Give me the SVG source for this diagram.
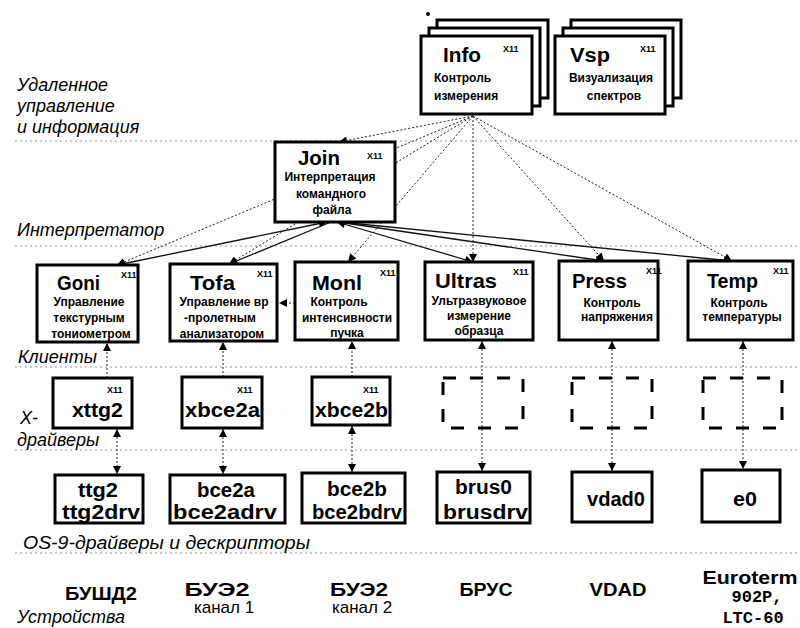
<svg xmlns="http://www.w3.org/2000/svg" width="800" height="628" viewBox="0 0 800 628">
<defs>
<marker id="ah" viewBox="0 0 10 10" refX="10" refY="5" markerWidth="9" markerHeight="8" markerUnits="userSpaceOnUse" orient="auto-start-reverse">
<path d="M0,0 L10,5 L0,10 z" fill="#000"/>
</marker>
<style>
.box{fill:#fff;stroke:#000;stroke-width:3}
.dbox{fill:none;stroke:#000;stroke-width:3;stroke-dasharray:13 14}
.t{font-family:"Liberation Sans",Arial,sans-serif;font-weight:bold;font-size:20px;fill:#000}
.x{font-family:"Liberation Sans",Arial,sans-serif;font-weight:bold;font-size:9px;fill:#000}
.d{font-family:"Liberation Sans",Arial,sans-serif;font-weight:bold;font-size:12px;text-anchor:middle;fill:#000}
.dl{font-family:"Liberation Sans",Arial,sans-serif;font-weight:bold;font-size:12px;fill:#000}
.lab{font-family:"Liberation Sans",Arial,sans-serif;font-style:italic;font-size:18px;fill:#000}
.sep{stroke:#999;stroke-width:1;stroke-dasharray:2 3;fill:none}
.dot{stroke:#222;stroke-width:1;stroke-dasharray:2 2;fill:none}
.sol{stroke:#111;stroke-width:1.3;fill:none}
.dev{font-family:"Liberation Sans",Arial,sans-serif;font-weight:bold;font-size:18px;text-anchor:middle;fill:#000}
.devr{font-family:"Liberation Sans",Arial,sans-serif;font-size:17px;text-anchor:middle;fill:#000}
.mono{font-family:"Liberation Mono","Courier New",monospace;font-weight:bold;font-size:17px;text-anchor:middle;fill:#000}
</style>
</defs>
<rect width="800" height="628" fill="#fff"/>

<g id="layers">
<line class="sep" x1="15" y1="141" x2="800" y2="141"/>
<line class="sep" x1="15" y1="246" x2="800" y2="246"/>
<line class="sep" x1="15" y1="367" x2="800" y2="367"/>
<line class="sep" x1="15" y1="450" x2="800" y2="450"/>
<line class="sep" x1="15" y1="553" x2="800" y2="553"/>
<text class="lab" x="17" y="91">Удаленное</text>
<text class="lab" x="17" y="112">управление</text>
<text class="lab" x="17" y="133">и информация</text>
<text class="lab" x="17" y="236">Интерпретатор</text>
<text class="lab" x="18" y="363">Клиенты</text>
<text class="lab" x="20" y="424">X-</text>
<text class="lab" x="17" y="446">драйверы</text>
<text class="lab" x="23" y="549" textLength="287" lengthAdjust="spacingAndGlyphs">OS-9-драйверы и дескрипторы</text>
<text class="lab" x="17" y="623">Устройства</text>
<circle cx="428" cy="14" r="2" fill="#000"/>
</g>

<g id="connectors">
<line class="dot" x1="473" y1="116" x2="339" y2="142" marker-end="url(#ah)"/>
<line class="dot" x1="473" y1="116" x2="117" y2="265" marker-end="url(#ah)"/>
<line class="dot" x1="473" y1="116" x2="229" y2="264" marker-end="url(#ah)"/>
<line class="dot" x1="473" y1="116" x2="348" y2="262" marker-end="url(#ah)"/>
<line class="dot" x1="473" y1="116" x2="473" y2="262" marker-end="url(#ah)"/>
<line class="dot" x1="473" y1="116" x2="604" y2="261" marker-end="url(#ah)"/>
<line class="dot" x1="473" y1="116" x2="732" y2="261" marker-end="url(#ah)"/>
<line class="sol" x1="327" y1="222" x2="117" y2="265" marker-start="url(#ah)" marker-end="url(#ah)"/>
<line class="sol" x1="331" y1="222" x2="229" y2="264" marker-end="url(#ah)"/>
<line class="sol" x1="337" y1="222" x2="473" y2="262" marker-start="url(#ah)" marker-end="url(#ah)"/>
<line class="sol" x1="338" y1="222" x2="604" y2="261" marker-end="url(#ah)"/>
<line class="sol" x1="339" y1="222" x2="732" y2="261" marker-end="url(#ah)"/>
<line class="dot" x1="295" y1="303" x2="279" y2="303" marker-end="url(#ah)"/>
<line class="dot" x1="107" y1="378" x2="107" y2="343" marker-end="url(#ah)"/>
<line class="dot" x1="117" y1="429" x2="117" y2="474" marker-start="url(#ah)" marker-end="url(#ah)"/>
<line class="dot" x1="223" y1="377" x2="223" y2="342" marker-end="url(#ah)"/>
<line class="dot" x1="223" y1="429" x2="223" y2="474" marker-start="url(#ah)" marker-end="url(#ah)"/>
<line class="dot" x1="352" y1="377" x2="352" y2="341" marker-end="url(#ah)"/>
<line class="dot" x1="352" y1="426" x2="352" y2="472" marker-start="url(#ah)" marker-end="url(#ah)"/>
<line class="dot" x1="482" y1="341" x2="482" y2="471" marker-start="url(#ah)" marker-end="url(#ah)"/>
<line class="dot" x1="612" y1="341" x2="612" y2="471" marker-start="url(#ah)" marker-end="url(#ah)"/>
<line class="dot" x1="743" y1="341" x2="743" y2="469" marker-start="url(#ah)" marker-end="url(#ah)"/>
</g>

<g id="info">
<rect class="box" x="437" y="20" width="111" height="78"/>
<rect class="box" x="429" y="28" width="111" height="78"/>
<rect class="box" x="421" y="36" width="111" height="78"/>
<text class="t" x="443" y="62" textLength="38" lengthAdjust="spacingAndGlyphs">Info</text>
<text class="x" x="503" y="52">X11</text>
<text class="dl" x="434" y="82">Контроль</text>
<text class="dl" x="434" y="100">измерения</text>
</g>

<g id="vsp">
<rect class="box" x="571" y="20" width="110" height="78"/>
<rect class="box" x="563" y="28" width="110" height="78"/>
<rect class="box" x="555" y="36" width="110" height="78"/>
<text class="t" x="570" y="62" textLength="40" lengthAdjust="spacingAndGlyphs">Vsp</text>
<text class="x" x="640" y="52">X11</text>
<text class="d" x="611" y="82">Визуализация</text>
<text class="d" x="614" y="100">спектров</text>
</g>

<g id="join">
<rect class="box" x="275" y="142" width="120" height="80"/>
<text class="t" x="298" y="165" textLength="42" lengthAdjust="spacingAndGlyphs">Join</text>
<text class="x" x="367" y="159">X11</text>
<text class="d" x="330" y="181">Интерпретация</text>
<text class="d" x="331" y="198">командного</text>
<text class="d" x="332" y="214">файла</text>
</g>

<g id="goni">
<rect class="box" x="37" y="265" width="101" height="77"/>
<text class="t" x="57" y="290" textLength="43" lengthAdjust="spacingAndGlyphs">Goni</text>
<text class="x" x="121" y="278">X11</text>
<text class="d" x="89" y="306">Управление</text>
<text class="d" x="89" y="322">текстурным</text>
<text class="d" x="91" y="338">тониометром</text>
</g>

<g id="tofa">
<rect class="box" x="170" y="264" width="107" height="77"/>
<text class="t" x="190" y="290" textLength="45" lengthAdjust="spacingAndGlyphs">Tofa</text>
<text class="x" x="257" y="277">X11</text>
<text class="d" x="224" y="306">Управление вр</text>
<text class="d" x="220" y="322">-пролетным</text>
<text class="d" x="222" y="338">анализатором</text>
</g>

<g id="monl">
<rect class="box" x="295" y="262" width="103" height="78"/>
<text class="t" x="312" y="290" textLength="50" lengthAdjust="spacingAndGlyphs">Monl</text>
<text class="x" x="380" y="276">X11</text>
<text class="d" x="339" y="306">Контроль</text>
<text class="d" x="347" y="322">интенсивности</text>
<text class="d" x="347" y="337">пучка</text>
</g>

<g id="ultras">
<rect class="box" x="425" y="262" width="108" height="78"/>
<text class="t" x="435" y="288" textLength="62" lengthAdjust="spacingAndGlyphs">Ultras</text>
<text class="x" x="513" y="275">X11</text>
<text class="d" x="479" y="305">Ультразвуковое</text>
<text class="d" x="479" y="320">измерение</text>
<text class="d" x="479" y="335">образца</text>
</g>

<g id="press">
<rect class="box" x="559" y="261" width="99" height="79"/>
<text class="t" x="572" y="288" textLength="55" lengthAdjust="spacingAndGlyphs">Press</text>
<text class="x" x="646" y="274">X11</text>
<text class="d" x="612" y="307">Контроль</text>
<text class="d" x="617" y="321">напряжения</text>
</g>

<g id="temp">
<rect class="box" x="688" y="261" width="105" height="79"/>
<text class="t" x="707" y="288" textLength="51" lengthAdjust="spacingAndGlyphs">Temp</text>
<text class="x" x="773" y="274">X11</text>
<text class="d" x="739" y="307">Контроль</text>
<text class="d" x="742" y="321">температуры</text>
</g>

<g id="xttg2">
<rect class="box" x="53" y="378" width="79" height="50"/>
<text class="x" x="107" y="393">X11</text>
<text class="t" x="72" y="417" textLength="51" lengthAdjust="spacingAndGlyphs">xttg2</text>
</g>
<g id="xbce2a">
<rect class="box" x="182" y="377" width="80" height="51"/>
<text class="x" x="237" y="393">X11</text>
<text class="t" x="185" y="417" textLength="75" lengthAdjust="spacingAndGlyphs">xbce2a</text>
</g>
<g id="xbce2b">
<rect class="box" x="312" y="377" width="78" height="48"/>
<text class="x" x="363" y="393">X11</text>
<text class="t" x="315" y="417" textLength="73" lengthAdjust="spacingAndGlyphs">xbce2b</text>
</g>
<g id="xultras"><rect class="dbox" x="443" y="378" width="80" height="50"/></g>
<g id="xpress"><rect class="dbox" x="572" y="378" width="80" height="50"/></g>
<g id="xtemp"><rect class="dbox" x="703" y="378" width="79" height="50"/></g>

<g id="ttg2">
<rect class="box" x="55" y="475" width="88" height="48"/>
<text class="t" x="78" y="497" textLength="40" lengthAdjust="spacingAndGlyphs">ttg2</text>
<text class="t" x="62" y="519" textLength="78" lengthAdjust="spacingAndGlyphs">ttg2drv</text>
</g>
<g id="bce2a">
<rect class="box" x="170" y="475" width="115" height="48"/>
<text class="t" x="197" y="497" textLength="58" lengthAdjust="spacingAndGlyphs">bce2a</text>
<text class="t" x="173" y="519" textLength="104" lengthAdjust="spacingAndGlyphs">bce2adrv</text>
</g>
<g id="bce2b">
<rect class="box" x="302" y="473" width="103" height="50"/>
<text class="t" x="327" y="496" textLength="60" lengthAdjust="spacingAndGlyphs">bce2b</text>
<text class="t" x="312" y="519" textLength="90" lengthAdjust="spacingAndGlyphs">bce2bdrv</text>
</g>
<g id="brus0">
<rect class="box" x="437" y="472" width="93" height="51"/>
<text class="t" x="455" y="494" textLength="57" lengthAdjust="spacingAndGlyphs">brus0</text>
<text class="t" x="443" y="519" textLength="85" lengthAdjust="spacingAndGlyphs">brusdrv</text>
</g>
<g id="vdad0">
<rect class="box" x="572" y="472" width="80" height="50"/>
<text class="t" x="587" y="506" textLength="58" lengthAdjust="spacingAndGlyphs">vdad0</text>
</g>
<g id="e0">
<rect class="box" x="702" y="470" width="78" height="52"/>
<text class="t" x="733" y="506" textLength="24" lengthAdjust="spacingAndGlyphs">e0</text>
</g>

<g id="devices">
<text class="dev" x="101" y="600" textLength="72" lengthAdjust="spacingAndGlyphs">БУШД2</text>
<text class="dev" x="217" y="596" textLength="65" lengthAdjust="spacingAndGlyphs">БУЭ2</text>
<text class="devr" x="224" y="613">канал 1</text>
<text class="dev" x="359" y="596" textLength="58" lengthAdjust="spacingAndGlyphs">БУЭ2</text>
<text class="devr" x="362" y="613">канал 2</text>
<text class="dev" x="486" y="596" textLength="53" lengthAdjust="spacingAndGlyphs">БРУС</text>
<text class="dev" x="618" y="596" textLength="57" lengthAdjust="spacingAndGlyphs">VDAD</text>
<text class="dev" x="750" y="584" textLength="95" lengthAdjust="spacingAndGlyphs">Euroterm</text>
<text class="mono" x="757" y="602">902P,</text>
<text class="mono" x="753" y="623">LTC-60</text>
</g>
</svg>
